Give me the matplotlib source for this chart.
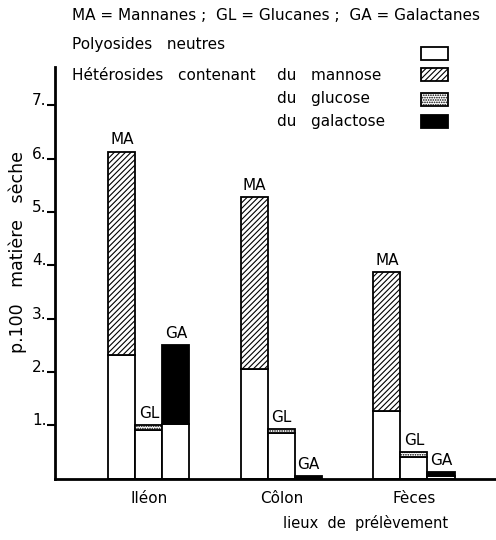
import numpy as np
import matplotlib.pyplot as plt
from matplotlib.patches import Rectangle

plt.rcParams['font.family'] = 'DejaVu Sans'
plt.rcParams['hatch.linewidth'] = 0.8

groups = ['Iléon', 'Côlon', 'Fèces']
bar_names = ['MA', 'GL', 'GA']

# p.100 matiere seche
neutres = [[2.32, 2.05, 1.27],   # MA
           [0.91, 0.85, 0.40],   # GL
           [1.02, 0.00, 0.04]]   # GA
heterosides = [[3.81, 3.23, 2.60],   # mannose
               [0.09, 0.08, 0.10],   # glucose
               [1.48, 0.05, 0.08]]   # galactose

y_ticks = [1, 2, 3, 4, 5, 6, 7]
y_tick_labels = ['1.', '2.', '3.', '4.', '5.', '6.', '7.']

W, H = 496, 540
fig = plt.figure(figsize=(W / 100, H / 100), dpi=100)
ax = fig.add_axes([55 / W, 61.5 / H, 1 - 55 / W, (478.5 - 67) / H])

x = np.arange(len(groups))
width = 0.204
offsets = [-width, 0, width]
hatches = ['//////', '.......', None]
tops = ['white', 'white', 'black']

for i in range(3):
    pos = x + offsets[i]
    ax.bar(pos, neutres[i], width, color='white', edgecolor='black', linewidth=1.3)
    ax.bar(pos, heterosides[i], width, bottom=neutres[i], color=tops[i],
           edgecolor='black', linewidth=1.3, hatch=hatches[i])
    for j in range(3):
        total = neutres[i][j] + heterosides[i][j]
        ax.text(pos[j], total + 0.08, bar_names[i], ha='center', va='bottom', fontsize=11)

ax.set_xlim(-0.709, 2.619)
ax.set_ylim(0, 7.72)
ax.spines['top'].set_visible(False)
ax.spines['right'].set_visible(False)
ax.spines['left'].set_linewidth(2)
ax.spines['bottom'].set_linewidth(2)

ax.set_yticks(y_ticks)
ax.set_yticklabels(y_tick_labels, fontsize=11)
ax.tick_params(axis='y', direction='out', length=6, width=1.5, pad=0)
for lab in ax.get_yticklabels():
    lab.set_va('baseline')

ax.set_xticks(x)
ax.set_xticklabels(groups, fontsize=11)
ax.tick_params(axis='x', length=0, pad=9)

def fy(py):
    return 1 - py / H

fs = 11
fig.text(18 / W, fy(252), 'p.100   matière   sèche', rotation=90, ha='center', va='center', fontsize=12.5)
fig.text(448 / W, fy(523), 'lieux  de  prélèvement', ha='right', va='center', fontsize=10.5)

fig.text(72 / W, fy(15), 'MA = Mannanes ;  GL = Glucanes ;  GA = Galactanes', ha='left', va='center', fontsize=fs)
fig.text(72 / W, fy(44), 'Polyosides   neutres', ha='left', va='center', fontsize=fs)
fig.text(72 / W, fy(75), 'Hétérosides   contenant', ha='left', va='center', fontsize=fs)
fig.text(277 / W, fy(75), 'du   mannose', ha='left', va='center', fontsize=fs)
fig.text(277 / W, fy(98), 'du   glucose', ha='left', va='center', fontsize=fs)
fig.text(277 / W, fy(122), 'du   galactose', ha='left', va='center', fontsize=fs)

# legend boxes
box_y = [47, 68, 93, 115]
box_fill = ['white', 'white', 'white', 'black']
box_hatch = [None, '//////', '.......', None]
for by, fc, hh in zip(box_y, box_fill, box_hatch):
    fig.patches.append(Rectangle((421 / W, fy(by + 13)), 27 / W, 13 / H, transform=fig.transFigure,
                                 facecolor=fc, edgecolor='black', linewidth=1.3, hatch=hh))

fig.savefig('out.png', dpi=100)
